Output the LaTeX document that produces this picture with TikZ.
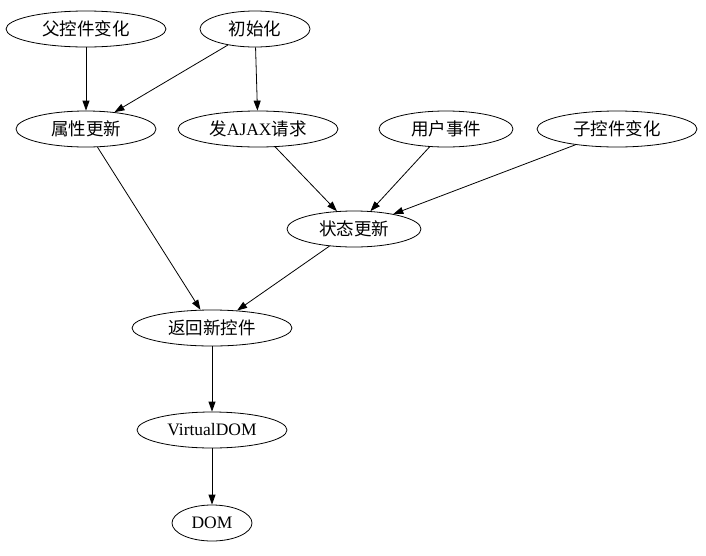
\documentclass[tikz,border=0pt]{standalone}
\usepackage{fontspec}
\setmainfont{Liberation Serif}
\newfontfamily\cjk{Noto Sans CJK SC}
\usetikzlibrary{shapes.geometric,arrows.meta}

\begin{document}
\begin{tikzpicture}[x=1pt,y=-1pt,
		state/.style={draw,ellipse,thick,inner sep=0pt,minimum height=36pt,font=\fontsize{17.5}{20}\selectfont},
		flow/.style={draw,thick,-{Triangle[length=10pt,width=7pt]}}]
		\useasboundingbox (0,0) rectangle (706,555);

		% Nodes
		\node[state,minimum width=160pt] (parent) at (86,29) {\cjk 父控件变化};
		\node[state,minimum width=110pt] (init) at (255,29) {\cjk 初始化};
		\node[state,minimum width=140pt] (props) at (86,129) {\cjk 属性更新};
		\node[state,minimum width=160pt] (ajax) at (258,129) {{\cjk 发}AJAX{\cjk 请求}};
		\node[state,minimum width=134pt] (user) at (446,129) {\cjk 用户事件};
		\node[state,minimum width=160pt] (child) at (617,129) {\cjk 子控件变化};
		\node[state,minimum width=134pt] (stat) at (354,229) {\cjk 状态更新};
		\node[state,minimum width=160pt] (ret) at (212,328) {\cjk 返回新控件};
		\node[state,minimum width=150pt] (vdom) at (212,430) {VirtualDOM};
		\node[state,minimum width=80pt] (dom) at (212,523) {DOM};

		% Edges
		\draw[flow] (parent) -- (props);
		\draw[flow] (init) -- (props);
		\draw[flow] (init) -- (ajax);
		\draw[flow] (ajax) -- (stat);
		\draw[flow] (user) -- (stat);
		\draw[flow] (child) -- (stat);
		\draw[flow] (props) -- (ret);
		\draw[flow] (stat) -- (ret);
		\draw[flow] (ret) -- (vdom);
		\draw[flow] (vdom) -- (dom);
	\end{tikzpicture}
\end{document}
